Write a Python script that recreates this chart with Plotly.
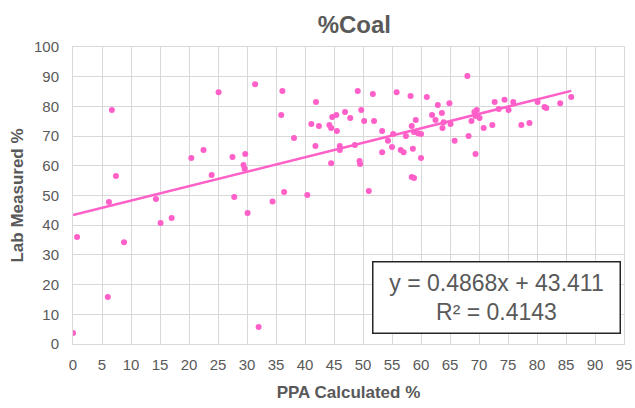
import plotly.graph_objects as go

# PPA calculated vs lab measured coal content (%)
ppa_calculated = [
    0.0, 0.7, 6.0, 6.2, 6.7, 7.4, 8.8, 14.3, 15.1, 17.0,
    20.4, 22.5, 23.9, 25.1, 27.5, 27.8, 29.4, 29.6, 29.7, 30.1,
    31.4, 32.0, 34.4, 35.9, 36.1, 36.4, 38.1, 40.4, 41.1, 41.8,
    41.9, 42.4, 44.2, 44.5, 44.5, 44.7, 45.4, 45.5, 46.0, 46.0,
    46.9, 47.8, 48.6, 49.1, 49.5, 49.4, 49.7, 50.2, 51.0, 51.7,
    51.9, 53.3, 53.3, 54.3, 55.0, 55.2, 55.8, 56.5, 57.0, 57.4,
    58.2, 58.4, 58.4, 58.6, 58.8, 58.8, 59.1, 59.5, 60.0, 60.0,
    61.0, 61.9, 62.5, 62.9, 63.6, 63.9, 63.7, 64.9, 65.1, 65.8,
    68.0, 68.2, 68.7, 69.2, 69.4, 69.4, 69.6, 70.1, 70.8, 72.3,
    72.7, 73.4, 74.4, 75.1, 75.9, 77.3, 78.7, 80.1, 81.3, 81.6,
    84.0, 85.9,
]
lab_measured = [
    3.7, 36.0, 15.8, 47.8, 78.8, 56.6, 34.3, 48.8, 40.7, 42.4,
    62.6, 65.3, 56.9, 84.8, 63.0, 49.5, 60.3, 59.0, 64.0, 44.1,
    87.5, 5.7, 48.0, 77.1, 85.2, 51.2, 69.4, 50.2, 74.1, 66.7,
    81.5, 73.4, 73.7, 72.7, 60.9, 76.4, 77.1, 71.7, 66.7, 65.3,
    78.1, 76.1, 67.0, 85.2, 60.6, 61.6, 78.8, 75.1, 51.5, 84.2,
    75.1, 71.7, 64.6, 68.4, 66.3, 70.7, 84.8, 65.3, 64.6, 70.0,
    83.5, 73.4, 56.2, 65.7, 71.4, 55.9, 75.4, 71.0, 70.7, 62.6,
    83.2, 77.1, 75.4, 80.5, 77.8, 74.7, 72.7, 81.1, 74.1, 68.4,
    90.2, 70.0, 75.1, 78.1, 64.0, 76.8, 78.8, 76.1, 72.7, 73.7,
    81.5, 79.1, 82.2, 78.8, 81.5, 73.7, 74.4, 81.5, 79.8, 79.5,
    81.1, 83.2,
]

# Linear trendline coefficients
slope = 0.4868
intercept = 43.411
r_squared = 0.4143
trend_x = [0.0, max(ppa_calculated)]
trend_y = [slope * v + intercept for v in trend_x]

x_ticks = list(range(0, 100, 5))
y_ticks = list(range(0, 110, 10))

PINK = "#ff5fc8"
GREY_TEXT = "#595959"
GRID = "#d9d9d9"
FONT = "Liberation Sans, Arial, sans-serif"

fig = go.Figure()
fig.add_trace(go.Scatter(
    x=ppa_calculated, y=lab_measured, mode="markers",
    marker=dict(size=6, color=PINK), showlegend=False,
))
fig.add_trace(go.Scatter(
    x=trend_x, y=trend_y, mode="lines",
    line=dict(color=PINK, width=2.5), showlegend=False,
))

fig.add_annotation(
    x=73.1, y=15.8, xref="x", yref="y",
    text=f"y = {slope}x + {intercept}<br>R² = {r_squared}",
    showarrow=False, align="center",
    font=dict(family=FONT, size=23, color=GREY_TEXT),
    bgcolor="white", bordercolor="#262626", borderwidth=1.5,
    borderpad=2, width=242, height=66,
)

fig.update_layout(
    width=635, height=408,
    margin=dict(l=73, r=11, t=47, b=64),
    paper_bgcolor="white", plot_bgcolor="white",
    title=dict(text="<b>%Coal</b>", x=0.558, xanchor="center", y=0.94, yanchor="middle",
               font=dict(family=FONT, size=24, color=GREY_TEXT)),
    font=dict(family=FONT, color=GREY_TEXT),
)
fig.update_xaxes(
    range=[0, 95], tickvals=x_ticks, showgrid=True, gridcolor=GRID, gridwidth=1,
    showline=True, linecolor=GRID, mirror=True, zeroline=False, automargin=False,
    ticks="outside", ticklen=7, tickcolor="rgba(0,0,0,0)",
    tickfont=dict(family=FONT, size=15, color=GREY_TEXT),
    title=dict(text="<b>PPA Calculated %</b>", standoff=14,
               font=dict(family=FONT, size=17, color=GREY_TEXT)),
)
fig.update_yaxes(
    range=[0, 100], tickvals=y_ticks, showgrid=True, gridcolor=GRID, gridwidth=1,
    showline=True, linecolor=GRID, mirror=True, zeroline=False, automargin=False,
    ticks="outside", ticklen=10, tickcolor="rgba(0,0,0,0)",
    tickfont=dict(family=FONT, size=15, color=GREY_TEXT),
    title=dict(text="<b>Lab Measured %</b>", standoff=6,
               font=dict(family=FONT, size=17, color=GREY_TEXT)),
)

fig.write_html("out.html")
